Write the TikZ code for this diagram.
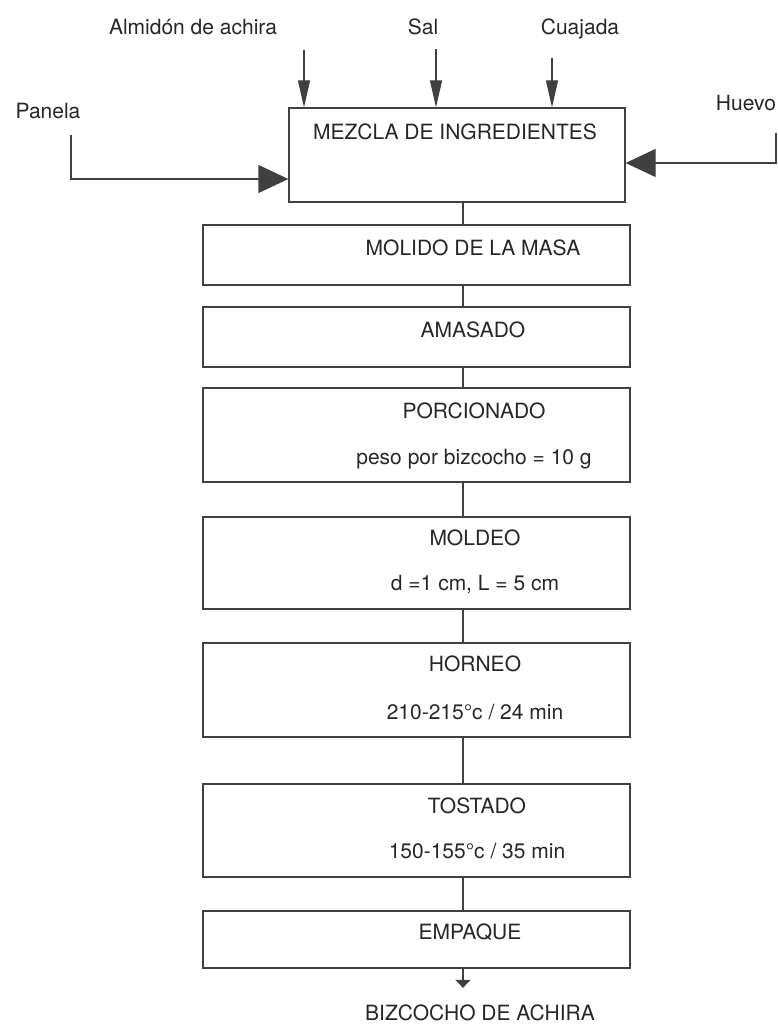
\documentclass[tikz,border=0pt]{standalone}
\usepackage{fontspec}
\setmainfont{TeX Gyre Heros}
\usetikzlibrary{arrows.meta}

\begin{document}
\begin{tikzpicture}[x=1pt, y=-1pt, line width=1.3pt, color=black!75,
    lbl/.style={font=\fontsize{21}{24}\selectfont, text=black!85, inner sep=0pt, text height=15pt, text depth=0pt},
    box/.style={draw=black!75, line width=1.3pt, inner sep=0pt, minimum width=427pt},
    link/.style={line width=1.3pt},
    toptip/.style={-{Triangle[length=27pt, width=12pt]}},
    sidetip/.style={-{Triangle[length=30pt, width=28pt]}},
    endtip/.style={-{Triangle[length=8pt, width=15pt]}, shorten >=17pt}]

  \useasboundingbox (0,0) rectangle (777,1024);

  % -- Mixing box and its inputs --
  \node[box, minimum width=336pt, minimum height=94pt] (mezcla) at (457,155) {};
  \node[lbl] (tmezcla) at (455,132) {MEZCLA DE INGREDIENTES};

  \node[lbl] (almidon) at (193,27) {Almidón de achira};
  \node[lbl] (sal) at (423,27) {Sal};
  \node[lbl] (cuajada) at (580,27) {Cuajada};
  \node[lbl] (panela) at (48,111) {Panela};
  \node[lbl] (huevo) at (746,103) {Huevo};

  \coordinate (alm0) at (304,50);
  \coordinate (sal0) at (436,49);
  \coordinate (cua0) at (552,58);
  \draw[toptip] (alm0) -- (alm0 |- mezcla.north);
  \draw[toptip] (sal0) -- (sal0 |- mezcla.north);
  \draw[toptip] (cua0) -- (cua0 |- mezcla.north);

  \coordinate (pan0) at (71,135);
  \coordinate (pan1) at (0,179);
  \draw[sidetip] (pan0) |- (mezcla.west |- pan1);

  \coordinate (hue0) at (776,133);
  \coordinate (hue1) at (0,163);
  \draw[sidetip] (hue0) |- (mezcla.east |- hue1);

  % -- Process steps --
  \node[box, minimum height=60pt] (molido) at (416.5,255) {};
  \node[lbl] (tmolido) at (473,248) {MOLIDO DE LA MASA};

  \node[box, minimum height=60pt] (amasado) at (416.5,337) {};
  \node[lbl] (tamasado) at (473,330) {AMASADO};

  \node[box, minimum height=94pt] (porcion) at (416.5,435) {};
  \node[lbl] (tporcion) at (474,411) {PORCIONADO};
  \node[lbl] (tpeso) at (474,457) {peso por bizcocho = 10 g};

  \node[box, minimum height=92pt] (moldeo) at (416.5,563) {};
  \node[lbl] (tmoldeo) at (475,538) {MOLDEO};
  \node[lbl] (tdim) at (475,583) {d =1 cm, L = 5 cm};

  \node[box, minimum height=94pt] (horneo) at (416.5,690) {};
  \node[lbl] (thorneo) at (475,664) {HORNEO};
  \node[lbl] (thtemp) at (475,712) {210-215°c / 24 min};

  \node[box, minimum height=93pt] (tostado) at (416.5,830.5) {};
  \node[lbl] (ttostado) at (477,806) {TOSTADO};
  \node[lbl] (tttemp) at (477,851) {150-155°c / 35 min};

  \node[box, minimum height=57pt] (empaque) at (416.5,939.5) {};
  \node[lbl] (tempaque) at (470,932) {EMPAQUE};

  \node[lbl] (producto) at (480,1013) {BIZCOCHO DE ACHIRA};

  % -- Connectors --
  \coordinate (eje) at (463,0);
  \draw[link] (mezcla.south -| eje) -- (molido.north -| eje);
  \draw[link] (molido.south -| eje) -- (amasado.north -| eje);
  \draw[link] (amasado.south -| eje) -- (porcion.north -| eje);
  \draw[link] (porcion.south -| eje) -- (moldeo.north -| eje);
  \draw[link] (moldeo.south -| eje) -- (horneo.north -| eje);
  \draw[link] (horneo.south -| eje) -- (tostado.north -| eje);
  \draw[link] (tostado.south -| eje) -- (empaque.north -| eje);
  \draw[endtip] (empaque.south -| eje) -- (producto.north -| eje);

\end{tikzpicture}
\end{document}
